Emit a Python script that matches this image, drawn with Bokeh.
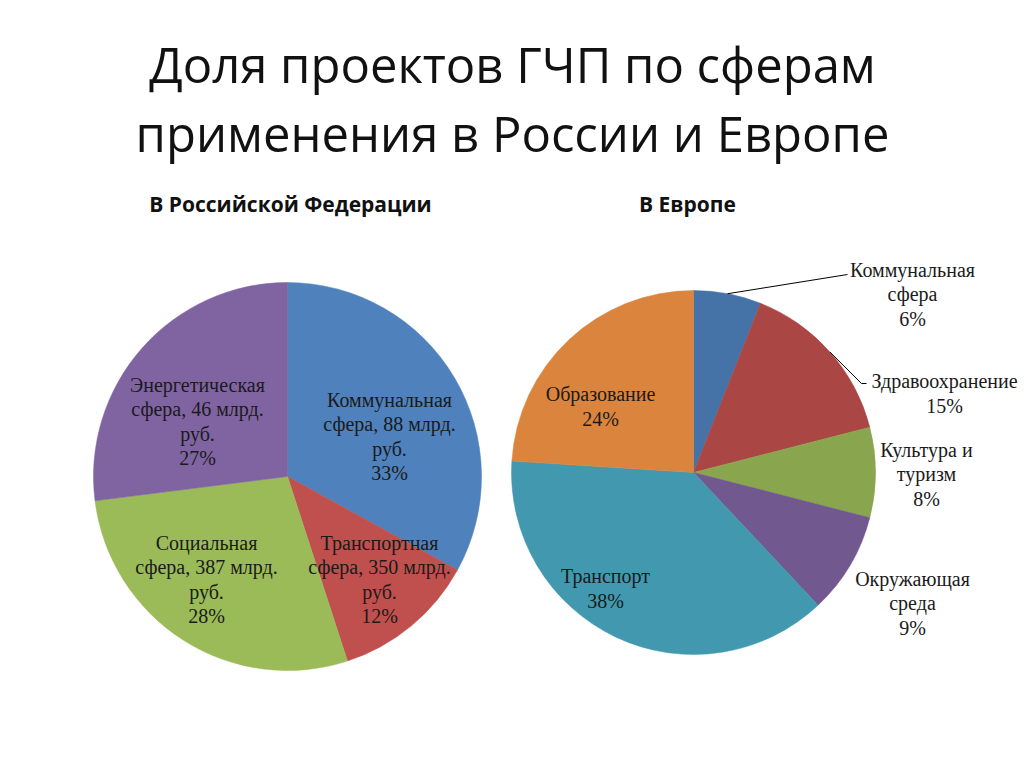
import numpy as np
from bokeh.plotting import figure
from bokeh.models import Range1d
from bokeh.embed import file_html
from bokeh.resources import INLINE
from bokeh.core.properties import value

W, H = 1024, 767

# ---------------- data ----------------
title_lines = ["Доля проектов ГЧП по сферам", "применения в России и Европе"]
ru_title = "В Российской Федерации"
eu_title = "В Европе"

ru_labels = ["Коммунальная\nсфера, 88 млрд.\nруб.",
             "Транспортная\nсфера, 350 млрд.\nруб.",
             "Социальная\nсфера, 387 млрд.\nруб.",
             "Энергетическая\nсфера, 46 млрд.\nруб."]
ru_pct = [33, 12, 28, 27]
ru_colors = ["#4f81bd", "#c0504d", "#9bbb59", "#8064a2"]

eu_labels = ["Коммунальная\nсфера", "Здравоохранение", "Культура и\nтуризм",
             "Окружающая\nсреда", "Транспорт", "Образование"]
eu_pct = [6, 15, 8, 9, 38, 24]
eu_colors = ["#4572a7", "#aa4643", "#89a54e", "#71588f", "#4198af", "#db843d"]

# ---------------- layout (pixels from top-left) ----------------
RU_C, RU_R = (287, 476), 194
EU_C, EU_R = (693, 472), 182
ru_label_pos = [(389, 436), (379, 579), (206, 579), (197, 421)]
eu_label_pos = [(912, 294), (944, 393), (926, 474), (912, 603), (605, 588), (600, 406)]
# leader lines: slice index -> list of extra pixel points after the edge point
eu_leaders = {0: [(847, 274)], 1: [(861, 383), (866, 383)]}

p = figure(width=W, height=H, x_range=Range1d(0, W), y_range=Range1d(0, H),
           output_backend="svg", toolbar_location=None, min_border=0,
           x_axis_location=None, y_axis_location=None)
p.grid.visible = False
p.outline_line_color = None
p.background_fill_color = "white"
p.border_fill_color = "white"


def Y(py):
    return H - py


def pie(cx, cy, r, pct, colors):
    frac = np.array(pct, dtype=float) / sum(pct)
    cum = np.concatenate([[0.0], np.cumsum(frac)])
    start = np.pi / 2 - 2 * np.pi * cum[:-1]
    end = np.pi / 2 - 2 * np.pi * cum[1:]
    p.wedge(x=cx, y=Y(cy), radius=r, start_angle=list(start), end_angle=list(end),
            direction="clock", fill_color=colors, line_color=colors, line_width=0.5)
    mid = (start + end) / 2
    return mid


pie(RU_C[0], RU_C[1], RU_R, ru_pct, ru_colors)
eu_mid = pie(EU_C[0], EU_C[1], EU_R, eu_pct, eu_colors)

# leader lines
for i, pts in eu_leaders.items():
    ex = EU_C[0] + EU_R * np.cos(eu_mid[i])
    ey = EU_C[1] - EU_R * np.sin(eu_mid[i])
    xs = [ex] + [q[0] for q in pts]
    ys = [Y(ey)] + [Y(q[1]) for q in pts]
    p.line(xs, ys, line_color="black", line_width=1)

# slice labels
serif = value("Liberation Serif")
ru_text = [f"{l}\n{v}%" for l, v in zip(ru_labels, ru_pct)]
p.text(x=[q[0] for q in ru_label_pos], y=[Y(q[1]) for q in ru_label_pos], text=ru_text,
       text_align="center", text_baseline="middle", text_font=serif,
       text_font_size="20px", text_line_height=1.12, text_color="#1a1a1a")
eu_text = [f"{l}\n{v}%" for l, v in zip(eu_labels, eu_pct)]
p.text(x=[q[0] for q in eu_label_pos], y=[Y(q[1]) for q in eu_label_pos], text=eu_text,
       text_align="center", text_baseline="middle", text_font=serif,
       text_font_size="20px", text_line_height=1.12, text_color="#1a1a1a")

# titles
sans = value("Open Sans")
p.text(x=[512, 512], y=[Y(63), Y(132)], text=title_lines, text_align="center",
       text_baseline="middle", text_font=sans, text_font_size="49px", text_color="#111111")
p.text(x=[290, 687], y=[Y(203), Y(203)], text=[ru_title, eu_title], text_align="center",
       text_baseline="middle", text_font=sans, text_font_size="21px",
       text_font_style="bold", text_color="#111111")

open("out.html", "w").write(file_html(p, INLINE))
